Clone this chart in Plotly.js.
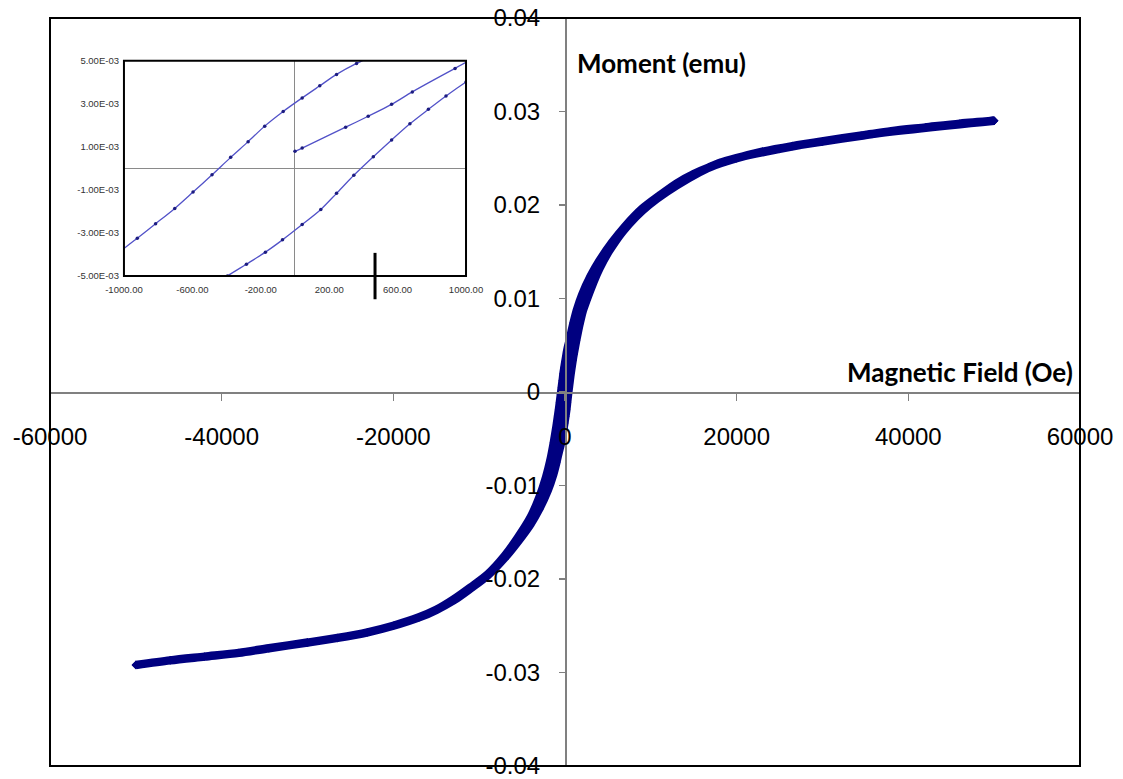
<!DOCTYPE html>
<html>
<head>
<meta charset="utf-8">
<script src="https://cdn.plot.ly/plotly-3.0.1.min.js"></script>
<style>
  html, body { margin: 0; padding: 0; background: #ffffff; }
  #chart { width: 1123px; height: 779px; }
</style>
</head>
<body>
<div id="chart"></div>
<script>
// Hysteresis loop: magnetic moment (emu) versus applied field (Oe)

// Initial magnetisation curve, 0 -> +50000 Oe
const virginField  = [0, 42, 296, 428, 565, 686, 936, 1500, 2500, 4000, 6000, 9000, 13000, 18000, 25000, 35000, 50000];
const virginMoment = [0.00079, 0.00094, 0.00191, 0.00242, 0.00297, 0.00355, 0.00464, 0.0070, 0.0098, 0.0132, 0.0163, 0.0194, 0.0221, 0.0245, 0.0260, 0.0275, 0.0290];

// Descending branch, +50000 -> -50000 Oe
const descField  = [50000, 46000, 42000, 38000, 34500, 30000, 26500, 23000, 20000, 17000, 15000, 13000, 11000, 9000, 7000, 5500, 4000, 3000, 2000, 1400, 1000, 700, 480, 360, 243, 145, 42, -69, -177, -274, -376, -485, -596, -703, -815, -922, -1030, -1300, -1700, -2200, -3000, -4000, -5500, -7000, -9000, -11000, -13000, -15000, -17000, -20000, -23000, -26500, -30000, -34500, -38000, -42000, -46000, -50000];
const descMoment = [0.0290, 0.0287, 0.0283, 0.0279, 0.0274, 0.0268, 0.0263, 0.0257, 0.0250, 0.0241, 0.0233, 0.0223, 0.0210, 0.0196, 0.0177, 0.0160, 0.0140, 0.0124, 0.0104, 0.0088, 0.0074, 0.0062, 0.0053, 0.00487, 0.00436, 0.00383, 0.00327, 0.00264, 0.00196, 0.00124, 0.00051, -0.0003, -0.0011, -0.00186, -0.00257, -0.00324, -0.0039, -0.0054, -0.0073, -0.0091, -0.0113, -0.0134, -0.0156, -0.0175, -0.0195, -0.0209, -0.0222, -0.0233, -0.0241, -0.0250, -0.0257, -0.0263, -0.0268, -0.0274, -0.0279, -0.0283, -0.0287, -0.0292];

// Ascending branch, -50000 -> +50000 Oe
const ascField  = [-50000, -46000, -42000, -38000, -34500, -30000, -26500, -23000, -20000, -17000, -15000, -13000, -11000, -9000, -7000, -5500, -4000, -3000, -2000, -1400, -1000, -700, -500, -395, -284, -173, -73, 42, 151, 243, 344, 458, 565, 672, 780, 883, 1000, 1300, 1700, 2200, 3000, 4000, 5500, 7000, 9000, 11000, 13000, 15000, 17000, 20000, 23000, 26500, 30000, 34500, 38000, 42000, 46000, 50000];
const ascMoment = [-0.0292, -0.0287, -0.0283, -0.0279, -0.0274, -0.0268, -0.0263, -0.0257, -0.0250, -0.0241, -0.0233, -0.0223, -0.0210, -0.0196, -0.0177, -0.0160, -0.0141, -0.0125, -0.0105, -0.0089, -0.0075, -0.0063, -0.0056, -0.0050, -0.00445, -0.00389, -0.00332, -0.00261, -0.00191, -0.00116, -0.00032, 0.00054, 0.00132, 0.00207, 0.00274, 0.00336, 0.00401, 0.0055, 0.0073, 0.0091, 0.0113, 0.0134, 0.0156, 0.0175, 0.0195, 0.0209, 0.0222, 0.0233, 0.0241, 0.0250, 0.0257, 0.0263, 0.0268, 0.0274, 0.0279, 0.0283, 0.0287, 0.0290];

// Main axis ticks
const fieldTicks      = [-60000, -40000, -20000, 0, 20000, 40000, 60000];
const fieldTickText   = ['-60000', '-40000', '-20000', '0', '20000', '40000', '60000'];
const momentTicks     = [-0.04, -0.03, -0.02, -0.01, 0, 0.01, 0.02, 0.03, 0.04];
const momentTickText  = ['-0.04', '-0.03', '-0.02', '-0.01', '0', '0.01', '0.02', '0.03', '0.04'];

// Inset (low-field detail) ticks
const insetFieldTicks     = [-1000, -600, -200, 200, 600, 1000];
const insetFieldTickText  = ['-1000.00', '-600.00', '-200.00', '200.00', '600.00', '1000.00'];
const insetMomentTicks    = [-0.005, -0.003, -0.001, 0.001, 0.003, 0.005];
const insetMomentTickText = ['-5.00E-03', '-3.00E-03', '-1.00E-03', '1.00E-03', '3.00E-03', '5.00E-03'];

const loopField  = virginField.concat(descField, ascField);
const loopMoment = virginMoment.concat(descMoment, ascMoment);

const mainTrace = {
  x: loopField, y: loopMoment,
  xaxis: 'x', yaxis: 'y',
  type: 'scatter', mode: 'lines+markers',
  line: { color: '#000080', width: 8.5, shape: 'spline', smoothing: 0.8 },
  marker: { symbol: 'diamond', size: 6.5, color: '#000080' },
  hoverinfo: 'skip'
};

const insetTrace = {
  x: loopField, y: loopMoment,
  xaxis: 'x2', yaxis: 'y2',
  type: 'scatter', mode: 'lines+markers',
  line: { color: '#5252c8', width: 1.3, shape: 'spline', smoothing: 0.8 },
  marker: { symbol: 'circle', size: 3.5, color: '#1c1c80' },
  hoverinfo: 'skip'
};

const axisFont  = { family: 'Liberation Sans, Arial, sans-serif', size: 24, color: '#000000' };
const insetFont = { family: 'Liberation Sans, Arial, sans-serif', size: 9.5, color: '#333333' };
const labelFont = { family: 'Lato, Open Sans, sans-serif', size: 26, color: '#000000', weight: 700 };

const layout = {
  width: 1123, height: 779,
  margin: { l: 50, r: 43, t: 18, b: 13, pad: 0 },
  paper_bgcolor: '#ffffff', plot_bgcolor: '#ffffff',
  showlegend: false,
  xaxis: {
    range: [-60000, 60000], domain: [0, 1],
    anchor: 'free', position: 0.5,
    tickmode: 'array', tickvals: fieldTicks, ticktext: fieldTickText,
    showgrid: false, zeroline: false,
    showline: true, linecolor: '#808080', linewidth: 1.5,
    ticks: 'outside', ticklen: 7, tickwidth: 1.5, tickcolor: '#808080',
    tickfont: axisFont, ticklabelstandoff: 16, ticklabeloverflow: 'allow',
    fixedrange: true
  },
  yaxis: {
    range: [-0.04, 0.04], domain: [0, 1],
    anchor: 'free', position: 0.5,
    tickmode: 'array', tickvals: momentTicks, ticktext: momentTickText,
    showgrid: false, zeroline: false,
    showline: true, linecolor: '#808080', linewidth: 1.5,
    ticks: 'outside', ticklen: 6, tickwidth: 1.5, tickcolor: '#808080',
    tickfont: axisFont, ticklabelstandoff: 14, ticklabeloverflow: 'allow',
    fixedrange: true
  },
  xaxis2: {
    range: [-1000, 1000], domain: [0.0718, 0.4039],
    anchor: 'y2',
    tickmode: 'array', tickvals: insetFieldTicks, ticktext: insetFieldTickText,
    showgrid: false, zeroline: true, zerolinecolor: '#8a8a8a', zerolinewidth: 1,
    showline: false, ticks: '', tickfont: insetFont, ticklabelstandoff: 6,
    ticklabeloverflow: 'allow',
    fixedrange: true
  },
  yaxis2: {
    range: [-0.005, 0.005], domain: [0.655, 0.943],
    anchor: 'x2',
    tickmode: 'array', tickvals: insetMomentTicks, ticktext: insetMomentTickText,
    showgrid: false, zeroline: true, zerolinecolor: '#8a8a8a', zerolinewidth: 1,
    showline: false, ticks: '', tickfont: insetFont, ticklabelstandoff: 4,
    ticklabeloverflow: 'allow',
    fixedrange: true
  },
  shapes: [
    // outer plot-area frame
    { type: 'rect', xref: 'paper', yref: 'paper', x0: 0, x1: 1, y0: 0, y1: 1,
      line: { color: '#000000', width: 2 }, layer: 'above' },
    // inset frame
    { type: 'rect', xref: 'x2 domain', yref: 'y2 domain', x0: 0, x1: 1, y0: 0, y1: 1,
      line: { color: '#000000', width: 2 }, layer: 'above' },
    // text-cursor bar over the inset's lower edge
    { type: 'line', xref: 'x2', yref: 'paper', x0: 468, x1: 468, y0: 0.624, y1: 0.686,
      line: { color: '#000000', width: 3 }, layer: 'above' }
  ],
  annotations: [
    { text: 'Moment (emu)', xref: 'paper', yref: 'paper', x: 0.5097, y: 0.9405,
      xanchor: 'left', yanchor: 'middle', showarrow: false, font: labelFont },
    { text: 'Magnetic Field (Oe)', xref: 'paper', yref: 'paper', x: 0.9951, y: 0.5267,
      xanchor: 'right', yanchor: 'middle', showarrow: false, font: labelFont }
  ]
};

Plotly.newPlot('chart', [mainTrace, insetTrace], layout, { staticPlot: true, displayModeBar: false });
</script>
</body>
</html>
